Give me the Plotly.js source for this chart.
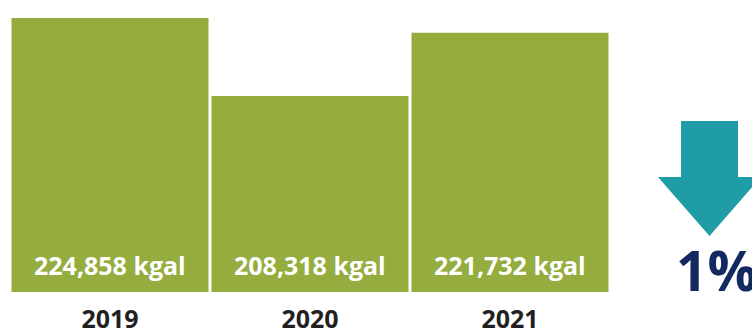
<!DOCTYPE html>
<html>
<head>
<meta charset="utf-8">
<script src="https://cdn.plot.ly/plotly-3.0.1.min.js"></script>
<style>html,body{margin:0;padding:0;background:#fff;}#chart{width:752px;height:335px;}</style>
</head>
<body>
<div id="chart"></div>
<script>
// Data
const years = ['2019', '2020', '2021'];
const values = [224858, 208318, 221732];
const unit = 'kgal';

// Layout geometry (pixels)
const W = 752, H = 335;
const M = {l: 10, r: 142, t: 9, b: 43};
const PW = W - M.l - M.r, PH = H - M.t - M.b;
const px = x => (x - M.l) / PW;           // pixel -> paper x
const py = y => (H - M.b - y) / PH;       // pixel -> paper y

const green = '#95ad3e', teal = '#1f9ca5', navy = '#13295f', dark = '#231f20';
const FONT = 'Open Sans, Noto Sans, sans-serif';

const fmt = v => v.toLocaleString('en-US') + ' ' + unit;
const pct = Math.round(Math.abs((values[values.length - 1] - values[0]) / values[0]) * 100);

const trace = {
  type: 'bar', x: years, y: values,
  marker: {color: green, line: {width: 0}},
  hoverinfo: 'skip'
};

const annotations = years.map((yr, i) => ({
  x: i, xref: 'x', y: 0, yref: 'paper', yanchor: 'middle', yshift: 27,
  text: fmt(values[i]), showarrow: false,
  font: {family: FONT, size: 25, color: '#ffffff', weight: 700}
}));
annotations.push({
  x: px(674), xref: 'paper', xanchor: 'left', y: py(292), yref: 'paper', yanchor: 'bottom', yshift: -17,
  text: pct + '%', showarrow: false,
  font: {family: FONT, size: 55, color: navy, weight: 700}
});

// Down arrow
const arrowPts = [[681,121],[738,121],[738,177],[761,177],[709.5,236],[658,177],[681,177]];
const path = 'M' + arrowPts.map(p => px(p[0]) + ',' + py(p[1])).join(' L') + ' Z';

const layout = {
  width: W, height: H,
  margin: M,
  paper_bgcolor: '#ffffff', plot_bgcolor: '#ffffff',
  bargap: 0.015,
  showlegend: false,
  xaxis: {
    type: 'category', range: [-0.5, years.length - 0.5], autorange: false,
    showgrid: false, zeroline: false, showline: false, ticks: '',
    tickfont: {family: FONT, size: 25, color: dark, weight: 700},
    ticklabelstandoff: 10,
    fixedrange: true
  },
  yaxis: {
    range: [166805, 226781], autorange: false, visible: false, showgrid: false, zeroline: false, fixedrange: true
  },
  shapes: [{
    type: 'path', xref: 'paper', yref: 'paper', path: path,
    fillcolor: teal, line: {width: 0}, layer: 'above'
  }],
  annotations: annotations
};

Plotly.newPlot('chart', [trace], layout, {displayModeBar: false, staticPlot: true});
</script>
</body>
</html>
